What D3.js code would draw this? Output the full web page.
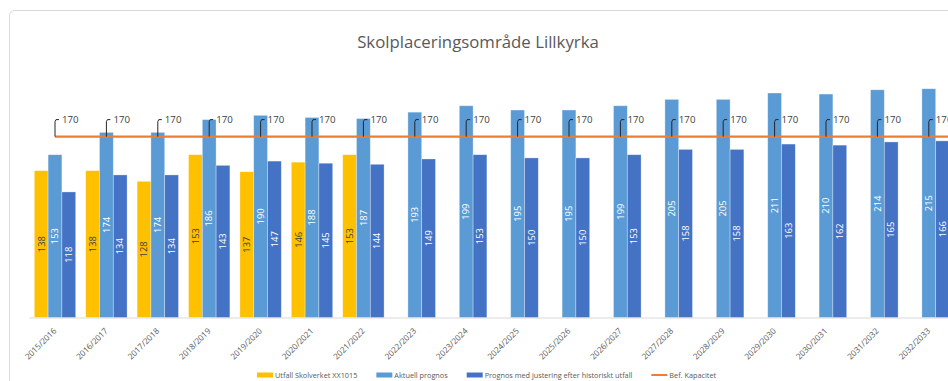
<!DOCTYPE html>
<html>
<head>
<meta charset="utf-8">
<script src="https://cdn.jsdelivr.net/npm/d3@7"></script>
<style>
  html, body { margin: 0; padding: 0; background: #fff; }
  svg { display: block; }
  text { font-family: "Open Sans", "Liberation Sans", sans-serif; }
</style>
</head>
<body>
<svg id="chart" width="948" height="381"></svg>
<script>
// Läsår (x-axis categories)
const years = ["2015/2016","2016/2017","2017/2018","2018/2019","2019/2020","2020/2021",
  "2021/2022","2022/2023","2023/2024","2024/2025","2025/2026","2026/2027","2027/2028",
  "2028/2029","2029/2030","2030/2031","2031/2032","2032/2033"];

// Series values (null = no outcome yet)
const utfall = [138,138,128,153,137,146,153,null,null,null,null,null,null,null,null,null,null,null];
const aktuell = [153,174,174,186,190,188,187,193,199,195,195,199,205,205,211,210,214,215];
const justerad = [118,134,134,143,147,145,144,149,153,150,150,153,158,158,163,162,165,166];
const kapacitet = [170,170,170,170,170,170,170,170,170,170,170,170,170,170,170,170,170,170];

const seriesNames = ["Utfall Skolverket XX1015","Aktuell prognos",
  "Prognos med justering efter historiskt utfall","Bef. Kapacitet"];
const title = "Skolplaceringsområde Lillkyrka";

const colors = ["#FFC000","#5B9BD5","#4472C4","#ED7D31"];
const barLabelColors = ["#404040","#ffffff","#ffffff"];

const svg = d3.select("#chart");

// Chart frame (continues past the right and bottom edges)
svg.append("rect")
  .attr("x", 9.5).attr("y", 10.5)
  .attr("width", 1100).attr("height", 500)
  .attr("rx", 5)
  .attr("fill", "#fff").attr("stroke", "#d9d9d9").attr("stroke-width", 1);

// Scales
const step = 51.4;
const plotLeft = 29.3;
const x0 = d3.scaleBand()
  .domain(years)
  .range([plotLeft, plotLeft + step * years.length])
  .paddingInner(0.195)
  .paddingOuter(0.0975);

const barSeries = [utfall, aktuell, justerad];
const x1 = d3.scaleBand()
  .domain(d3.range(barSeries.length))
  .range([0, x0.bandwidth()]);

const y = d3.scaleLinear().domain([0, 250]).range([317.5, 51.5]);

// Title
svg.append("text")
  .attr("x", 478).attr("y", 48)
  .attr("text-anchor", "middle")
  .attr("font-size", 16.8)
  .attr("fill", "#595959")
  .text(title);

// Category axis
const xAxis = d3.axisBottom(x0).tickSize(0).tickPadding(0);
const gx = svg.append("g")
  .attr("transform", `translate(0,${y(0)})`)
  .call(xAxis);
gx.select(".domain")
  .attr("d", `M${plotLeft},0.5H1000`)
  .attr("stroke", "#d9d9d9").attr("stroke-width", 1);
gx.selectAll(".tick text")
  .attr("font-size", 8.2)
  .attr("fill", "#595959")
  .attr("text-anchor", "end")
  .attr("dy", null)
  .attr("y", null)
  .attr("transform", "translate(2,14) rotate(-45)");

// Bars
const groups = svg.append("g").selectAll("g")
  .data(years)
  .join("g")
  .attr("transform", d => `translate(${x0(d)},0)`);

barSeries.forEach((vals, si) => {
  groups.filter((d, i) => vals[i] != null)
    .append("rect")
    .attr("x", x1(si))
    .attr("width", x1.bandwidth())
    .attr("y", (d) => y(vals[years.indexOf(d)]))
    .attr("height", (d) => y(0) - y(vals[years.indexOf(d)]))
    .attr("fill", colors[si])
    .attr("stroke", "#ffffff").attr("stroke-opacity", 0.45).attr("stroke-width", 0.7);

  groups.filter((d, i) => vals[i] != null)
    .append("text")
    .attr("transform", d => {
      const v = vals[years.indexOf(d)];
      const cx = x1(si) + x1.bandwidth() / 2;
      const cy = (y(v) + y(0)) / 2;
      return `translate(${cx},${cy}) rotate(-90)`;
    })
    .attr("text-anchor", "middle")
    .attr("dy", "0.35em")
    .attr("font-size", 9.4)
    .attr("fill", barLabelColors[si])
    .text(d => vals[years.indexOf(d)]);
});

// Capacity line
const cx = d => x0(d) + x0.bandwidth() / 2;
const line = d3.line()
  .x((d, i) => cx(years[i]))
  .y(d => y(d));
const extendedLine = line(kapacitet) + `H1000`;
svg.append("path")
  .attr("d", extendedLine)
  .attr("fill", "none")
  .attr("stroke", colors[3])
  .attr("stroke-width", 2.2);

// Capacity value labels with leader lines
const capLabels = svg.append("g").selectAll("g")
  .data(kapacitet)
  .join("g")
  .attr("transform", (d, i) => `translate(${cx(years[i])},${y(d)})`);
capLabels.append("path")
  .attr("d", "M0,0V-15L1,-17H4")
  .attr("fill", "none")
  .attr("stroke", "#262626")
  .attr("stroke-width", 1);
capLabels.append("text")
  .attr("x", 7).attr("y", -17)
  .attr("dy", "0.35em")
  .attr("font-size", 9.7)
  .attr("fill", "#404040")
  .text(d => d);

// Legend: fit the row between legendLeft and legendRight by sizing its font
const legendLeft = 257, legendRight = 717;
const swatchW = 16, swatchGap = 2, itemGap = 19;
const legend = svg.append("g").attr("transform", "translate(0,375)");
const probe = legend.append("g").selectAll("text").data(seriesNames).join("text")
  .attr("font-size", 10).text(d => d);
const widths10 = probe.nodes().map(n => n.getComputedTextLength());
probe.remove();
const fixedSpace = seriesNames.length * (swatchW + swatchGap) + (seriesNames.length - 1) * itemGap;
const legendFont = 10 * (legendRight - legendLeft - fixedSpace) / d3.sum(widths10);

let lx = legendLeft;
seriesNames.forEach((name, i) => {
  const g = legend.append("g").attr("transform", `translate(${lx},0)`);
  if (i < 3) {
    g.append("rect").attr("x", 0).attr("y", -2.5).attr("width", swatchW).attr("height", 5).attr("fill", colors[i]);
  } else {
    g.append("line").attr("x1", 0).attr("x2", swatchW).attr("y1", 0).attr("y2", 0)
      .attr("stroke", colors[i]).attr("stroke-width", 2);
  }
  const t = g.append("text")
    .attr("x", swatchW + swatchGap).attr("dy", "0.35em")
    .attr("font-size", legendFont)
    .attr("fill", "#595959")
    .text(name);
  lx += swatchW + swatchGap + t.node().getComputedTextLength() + itemGap;
});
</script>
</body>
</html>
